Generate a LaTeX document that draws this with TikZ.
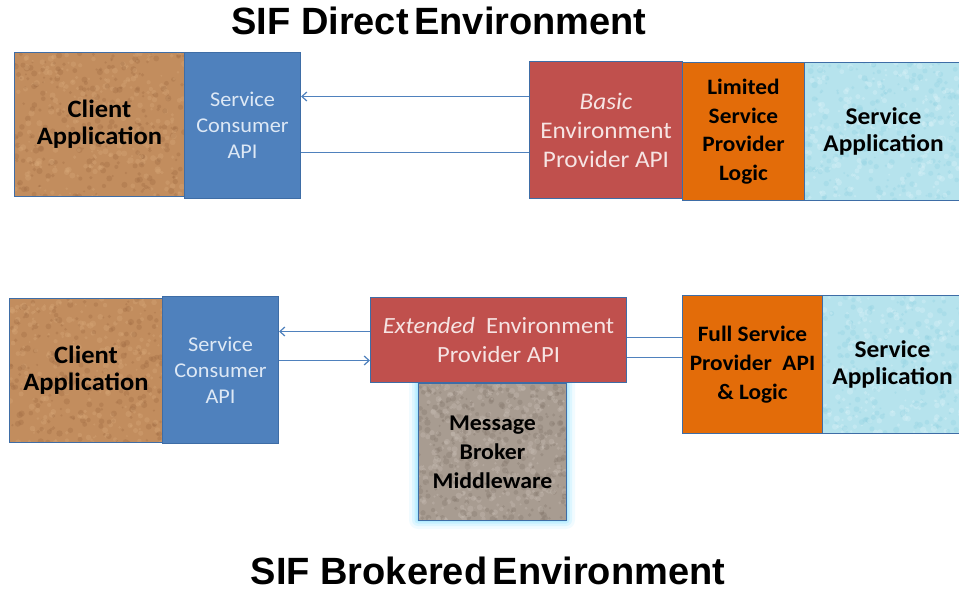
\documentclass[tikz,border=0pt]{standalone}
\usepackage{fontspec}
\setmainfont[FakeStretch=1.06]{Carlito}
\newfontfamily\titlefont{Liberation Sans}
\usetikzlibrary{arrows.meta}
\definecolor{cork}{HTML}{C28D5E}
\definecolor{corkdark}{HTML}{A06C44}
\definecolor{corklight}{HTML}{D8A878}
\definecolor{apiblue}{HTML}{4F81BD}
\definecolor{apitext}{HTML}{DDE8F5}
\definecolor{envred}{HTML}{C0504D}
\definecolor{envtext}{HTML}{F6E4E3}
\definecolor{logicor}{HTML}{E36C09}
\definecolor{aqua}{HTML}{B6E3ED}
\definecolor{aquadark}{HTML}{93D2E2}
\definecolor{aqualight}{HTML}{DDF4F9}
\definecolor{granite}{HTML}{A89C91}
\definecolor{granitedark}{HTML}{85786D}
\definecolor{granitelight}{HTML}{C8BEB4}
\definecolor{bordc}{HTML}{3E6DA6}
\definecolor{glowc}{HTML}{8FE3FF}
\pgfmathsetseed{4711}
\tikzset{
  box/.style={draw=bordc, line width=1pt, inner sep=0pt, align=center, anchor=north west},
  speckle/.style n args={6}{path picture={
    \foreach \i in {1,...,#4} {
      \fill[#1, opacity=0.35] ([xshift={rnd*#5 pt}, yshift={rnd*#6 pt}]path picture bounding box.south west) circle[radius={1pt+rnd*2.2pt}];
      \fill[#2, opacity=0.35] ([xshift={rnd*#5 pt}, yshift={rnd*#6 pt}]path picture bounding box.south west) circle[radius={1pt+rnd*2.2pt}];
    }}},
  clientbox/.style={box, fill=cork, font=\bfseries\fontsize{25}{27}\selectfont, text=black},
  apibox/.style={box, fill=apiblue, font=\fontsize{21}{26}\selectfont, text=apitext},
  envbox/.style={box, fill=envred, font=\fontsize{23.8}{29}\selectfont, text=envtext},
  logicbox/.style={box, fill=logicor, font=\bfseries\fontsize{22}{28.5}\selectfont, text=black},
  appbox/.style={box, fill=aqua, font=\bfseries\fontsize{24}{27}\selectfont, text=black},
  brokerbox/.style={box, fill=granite, font=\bfseries\fontsize{22.5}{29}\selectfont, text=black},
  conn/.style={draw=apiblue, line width=1.3pt},
  tip/.style={-{Straight Barb[length=5pt,width=9pt,line width=1.2pt]}},
  titletext/.style={font=\titlefont\bfseries\fontsize{38}{42}\selectfont, inner sep=0pt}
}
\begin{document}
\begin{tikzpicture}[x=1pt,y=-1pt]
\clip (0,0) rectangle (959,592);
\fill[white] (0,0) rectangle (959,592);
% titles
\node[titletext] (t1) at (439,21) {SIF Direct\hspace{-5pt} Environment};
\node[titletext] (t2) at (488,571) {SIF Brokered\hspace{-5pt} Environment};
% top row
\node[clientbox, speckle={corkdark}{corklight}{}{260}{170}{144}, minimum width=170pt, minimum height=144pt] (ca1) at (14,52) {Client\\Application};
\node[apibox, minimum width=116pt, minimum height=146pt] (sc1) at (184,52) {Service\\Consumer\\API};
\node[envbox, minimum width=153pt, minimum height=137pt] (bp1) at (529,61) {\textit{Basic}\\Environment\\Provider API};
\node[logicbox, minimum width=122pt, minimum height=138pt] (lp1) at (682,62) {Limited\\Service\\Provider\\Logic};
\node[appbox, speckle={aquadark}{aqualight}{}{220}{158}{138}, minimum width=158pt, minimum height=138pt] (sa1) at (804,62) {Service\\Application};
\path ([yshift=33.5pt]bp1.west) coordinate (a1s);
\path ([yshift=-22.5pt]bp1.west) coordinate (a2s);
\draw[conn, tip] (a1s) -- (a1s -| sc1.east);
\draw[conn] (a2s -| sc1.east) -- (a2s);
% bottom row
\foreach \g/\o in {9/0.12,6/0.2,3.5/0.3,1.5/0.45}
  \fill[glowc, opacity=\o, rounded corners=\g pt] (418-\g,383-\g) rectangle (566+\g,520+\g);
\node[clientbox, speckle={corkdark}{corklight}{}{230}{153}{144}, minimum width=153pt, minimum height=144pt] (ca2) at (9,298) {Client\\Application};
\node[apibox, minimum width=116pt, minimum height=147pt] (sc2) at (162,296) {Service\\Consumer\\API};
\node[brokerbox, speckle={granitedark}{granitelight}{}{330}{148}{137}, minimum width=148pt, minimum height=137pt] (mb2) at (418,383) {Message\\Broker\\Middleware};
\node[envbox, font=\fontsize{23.2}{29}\selectfont, minimum width=256pt, minimum height=85pt] (ep2) at (370,297) {\textit{Extended}~~Environment\\Provider API};
\node[logicbox, font=\bfseries\fontsize{22}{29}\selectfont, minimum width=140pt, minimum height=138pt] (fs2) at (682,295) {Full Service\\Provider~~API\\\& Logic};
\node[appbox, speckle={aquadark}{aqualight}{}{200}{140}{138}, minimum width=140pt, minimum height=138pt] (sa2) at (822,295) {Service\\Application};
\path ([yshift=8.5pt]ep2.west) coordinate (b1s);
\path ([yshift=-20.5pt]ep2.west) coordinate (b2s);
\draw[conn, tip] (b1s) -- (b1s -| sc2.east);
\draw[conn, tip] (b2s -| sc2.east) -- (b2s);
\path ([yshift=2.5pt]ep2.east) coordinate (c1s);
\path ([yshift=-17.5pt]ep2.east) coordinate (c2s);
\draw[conn] (c1s) -- (c1s -| fs2.west);
\draw[conn] (c2s) -- (c2s -| fs2.west);
\end{tikzpicture}
\end{document}
